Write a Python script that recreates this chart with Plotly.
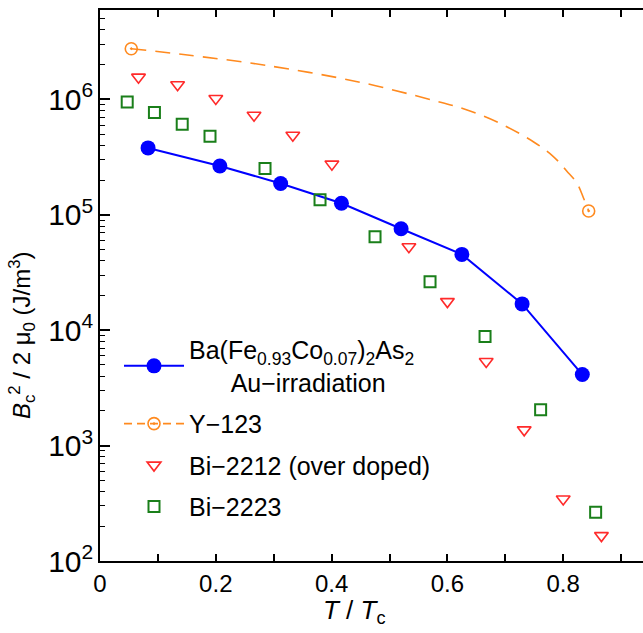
import plotly.graph_objects as go

# Ba(Fe0.93Co0.07)2As2 Au-irradiation
ba_t = [0.083, 0.207, 0.312, 0.417, 0.520, 0.625, 0.729, 0.833]
ba_e = [3.80e5, 2.65e5, 1.87e5, 1.26e5, 7.57e4, 4.54e4, 1.69e4, 4.13e3]

# Y-123 dashed curve
y123_t = [0.054, 0.144, 0.288, 0.449, 0.576, 0.634, 0.691, 0.749, 0.783, 0.806, 0.824, 0.835, 0.844]
y123_e = [2.75e6, 2.45e6, 1.97e6, 1.41e6, 9.8e5, 8.1e5, 6.2e5, 4.28e5, 3.2e5, 2.4e5, 1.87e5, 1.40e5, 1.08e5]
# Y-123 marked end points
y123_mt = [0.054, 0.844]
y123_me = [2.75e6, 1.08e5]

# Bi-2212 (over doped)
bi12_t = [0.0665, 0.134, 0.200, 0.266, 0.333, 0.4005, 0.5335, 0.600, 0.667, 0.7326, 0.800, 0.866]
bi12_e = [1.56e6, 1.34e6, 1.02e6, 7.3e5, 4.9e5, 2.75e5, 5.29e4, 1.77e4, 5.35e3, 1.37e3, 345, 166]

# Bi-2223
bi23_t = [0.047, 0.094, 0.142, 0.190, 0.285, 0.380, 0.475, 0.570, 0.665, 0.761, 0.856]
bi23_e = [9.5e5, 7.69e5, 6.09e5, 4.80e5, 2.52e5, 1.35e5, 6.45e4, 2.63e4, 8.8e3, 2.05e3, 264]

xtick_vals = [0, 0.1, 0.2, 0.3, 0.4, 0.5, 0.6, 0.7, 0.8, 0.9]
xtick_text = ["0", "", "0.2", "", "0.4", "", "0.6", "", "0.8", ""]

FONT = "Arial, Liberation Sans, sans-serif"
BLUE = "#0000FF"
ORANGE = "#FF8A1F"
RED = "#FF2A2A"
GREEN = "#1A7F1A"

y123_line = dict(color=ORANGE, width=1.6, dash="15px,9px")
y123_marker = dict(symbol="circle-open-dot", size=12, color=ORANGE, line=dict(width=1.6))

fig = go.Figure()

fig.add_trace(go.Scatter(
    x=ba_t, y=ba_e, mode="lines+markers",
    name="Ba(Fe<sub>0.93</sub>Co<sub>0.07</sub>)<sub>2</sub>As<sub>2</sub><br>\u00a0\u00a0\u00a0\u00a0\u00a0\u00a0Au\u2212irradiation",
    line=dict(color=BLUE, width=2),
    marker=dict(symbol="circle", size=15, color=BLUE),
    legendgroup="a",
))
fig.add_trace(go.Scatter(
    x=y123_t, y=y123_e, mode="lines", line_shape="spline",
    line=y123_line, showlegend=False, legendgroup="b", hoverinfo="skip",
))
fig.add_trace(go.Scatter(
    x=y123_mt, y=y123_me, mode="markers",
    marker=y123_marker, showlegend=False, legendgroup="b",
))
# legend entry for Y-123 (dashed line with marker)
fig.add_trace(go.Scatter(
    x=[None], y=[None], mode="lines+markers", name="Y\u2212123",
    line=dict(color=ORANGE, width=1.6, dash="8px,5px"), marker=y123_marker,
    legendgroup="b",
))
fig.add_trace(go.Scatter(
    x=bi12_t, y=bi12_e, mode="markers",
    name="Bi\u22122212 (over doped)",
    marker=dict(symbol="triangle-down-open", size=12, color=RED, line=dict(width=1.6)),
    legendgroup="c",
))
fig.add_trace(go.Scatter(
    x=bi23_t, y=bi23_e, mode="markers",
    name="Bi\u22122223",
    marker=dict(symbol="square-open", size=11, color=GREEN, line=dict(width=2)),
    legendgroup="d",
))

fig.update_layout(
    width=643, height=633,
    margin=dict(l=100, r=0, t=9.5, b=71.5),
    paper_bgcolor="white", plot_bgcolor="white",
    font=dict(family=FONT, size=22, color="black"),
    showlegend=True,
    legend=dict(x=0.035, y=0.425, xanchor="left", yanchor="top",
                bgcolor="rgba(0,0,0,0)", font=dict(size=25, family=FONT),
                tracegroupgap=6, itemwidth=60, traceorder="grouped"),
    xaxis=dict(range=[0, 0.9378], tickvals=xtick_vals, ticktext=xtick_text,
               ticks="inside", ticklen=7, tickwidth=1.5, tickcolor="black",
               showline=True, linecolor="black", linewidth=2, mirror="ticks",
               showgrid=False, zeroline=False,
               tickfont=dict(size=24, family=FONT)),
    yaxis=dict(type="log", range=[2, 6.775], dtick=1, exponentformat="power",
               ticks="inside", ticklen=10, tickwidth=1.5, tickcolor="black",
               minor=dict(ticks="inside", ticklen=5, tickwidth=1.2, tickcolor="black", dtick="D1", showgrid=False),
               showline=True, linecolor="black", linewidth=2, mirror=False,
               showgrid=False, zeroline=False,
               tickfont=dict(size=24, family=FONT)),
    annotations=[
        dict(text="<i>T</i> / <i>T</i><sub>c</sub>", xref="paper", yref="paper",
             x=0.468, y=-0.092, xanchor="center", yanchor="middle", showarrow=False,
             font=dict(size=26, family=FONT)),
        dict(text="<i>B</i><sub>c</sub><sup>2</sup> / 2 \u03bc<sub>0</sub> (J/m<sup>3</sup>)",
             xref="paper", yref="paper", x=-0.1436, y=0.41, textangle=-90,
             xanchor="center", yanchor="middle", showarrow=False,
             font=dict(size=24, family=FONT)),
    ],
)

fig.write_html("out.html", config={"displayModeBar": False},
               post_script="document.body.style.margin='0px';")
